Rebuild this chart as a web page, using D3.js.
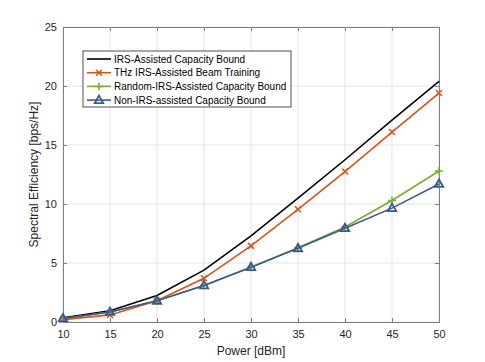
<!DOCTYPE html>
<html><head><meta charset="utf-8">
<script src="https://cdn.jsdelivr.net/npm/d3@7"></script>
<style>body{margin:0;background:#fff}svg{display:block}</style>
</head><body>
<script>
const power = [10, 15, 20, 25, 30, 35, 40, 45, 50];
const irsBound = [0.35, 0.95, 2.25, 4.4, 7.3, 10.5, 13.75, 17.1, 20.4];
const thzTraining = [0.2, 0.6, 1.8, 3.7, 6.45, 9.55, 12.75, 16.1, 19.4];
const randomIrs = [0.3, 0.85, 1.8, 3.1, 4.65, 6.3, 8.05, 10.3, 12.8];
const nonIrs = [0.3, 0.85, 1.8, 3.1, 4.65, 6.25, 7.95, 9.65, 11.7];
const xTicks = [10, 15, 20, 25, 30, 35, 40, 45, 50];
const yTicks = [0, 5, 10, 15, 20, 25];
const seriesNames = ["IRS-Assisted Capacity Bound", "THz IRS-Assisted Beam Training", "Random-IRS-Assisted Capacity Bound", "Non-IRS-assisted Capacity Bound"];
const seriesColors = ["#000000", "#D95319", "#77AC30", "#3A5A8E"];
const seriesMarkers = ["none", "x", "plus", "triangle"];
const seriesData = [irsBound, thzTraining, randomIrs, nonIrs];

const W = 485, H = 362;
const m = {l: 63, t: 27, r: 439, b: 322};
const svg = d3.select("body").append("svg").attr("width", W).attr("height", H)
  .style("font-family", "'Liberation Sans', Arial, sans-serif");
const x = d3.scaleLinear().domain([10, 50]).range([m.l, m.r]);
const y = d3.scaleLinear().domain([0, 25]).range([m.b, m.t]);

// grid
const g = svg.append("g");
g.selectAll(".gx").data(xTicks).join("line").attr("x1", d => x(d)).attr("x2", d => x(d))
  .attr("y1", m.t).attr("y2", m.b).attr("stroke", "#e3e3e3").attr("stroke-width", 1);
g.selectAll(".gy").data(yTicks).join("line").attr("y1", d => y(d)).attr("y2", d => y(d))
  .attr("x1", m.l).attr("x2", m.r).attr("stroke", "#e3e3e3").attr("stroke-width", 1);

// axes
const axCol = "#808080";
const axB = svg.append("g").attr("transform", `translate(0,${m.b})`)
  .call(d3.axisBottom(x).tickValues(xTicks).tickSize(-4).tickPadding(8));
const axL = svg.append("g").attr("transform", `translate(${m.l},0)`)
  .call(d3.axisLeft(y).tickValues(yTicks).tickSize(-4).tickPadding(6));
const axT = svg.append("g").attr("transform", `translate(0,${m.t})`)
  .call(d3.axisTop(x).tickValues(xTicks).tickSize(-4).tickFormat(""));
const axR = svg.append("g").attr("transform", `translate(${m.r},0)`)
  .call(d3.axisRight(y).tickValues(yTicks).tickSize(-4).tickFormat(""));
[axB, axL, axT, axR].forEach(a => {
  a.selectAll("path").attr("stroke", axCol);
  a.selectAll("line").attr("stroke", axCol);
  a.selectAll("text").attr("fill", "#262626").style("font-size", "11px")
    .style("font-family", "'Liberation Sans', Arial, sans-serif");
});

// lines
const line = d3.line().x((d, i) => x(power[i])).y(d => y(d));
function marker(sel, type, color) {
  if (type === "x") {
    sel.append("path").attr("d", "M-3,-3L3,3M-3,3L3,-3").attr("stroke", color).attr("stroke-width", 1.5).attr("fill", "none");
  } else if (type === "plus") {
    sel.append("path").attr("d", "M-4,0L4,0M0,-4L0,4").attr("stroke", color).attr("stroke-width", 1.5).attr("fill", "none");
  } else if (type === "triangle") {
    sel.append("path").attr("d", "M0,-4.5L4.2,3L-4.2,3Z").attr("stroke", color).attr("stroke-width", 1.8).attr("fill", "none");
  }
}
seriesData.forEach((s, k) => {
  svg.append("path").datum(s).attr("d", line).attr("fill", "none")
    .attr("stroke", seriesColors[k]).attr("stroke-width", 1.6);
  if (seriesMarkers[k] !== "none") {
    s.forEach((v, i) => {
      const mg = svg.append("g").attr("transform", `translate(${x(power[i])},${y(v)})`);
      marker(mg, seriesMarkers[k], seriesColors[k]);
    });
  }
});

// axis labels
svg.append("text").attr("x", (m.l + m.r) / 2).attr("y", 355).attr("text-anchor", "middle")
  .attr("fill", "#262626").style("font-size", "12px").text("Power [dBm]");
svg.append("text").attr("transform", `translate(38,${(m.t + m.b) / 2}) rotate(-90)`)
  .attr("text-anchor", "middle").attr("fill", "#262626").style("font-size", "12px")
  .text("Spectral Efficiency [bps/Hz]");

// legend
const lg = svg.append("g");
lg.append("rect").attr("x", 83).attr("y", 51).attr("width", 208).attr("height", 56)
  .attr("fill", "#fff").attr("stroke", "#262626").attr("stroke-width", 0.8);
seriesNames.forEach((n, k) => {
  const yy = 59 + k * 13.7;
  lg.append("line").attr("x1", 87).attr("x2", 111).attr("y1", yy).attr("y2", yy)
    .attr("stroke", seriesColors[k]).attr("stroke-width", 1.6);
  const mg = lg.append("g").attr("transform", `translate(99,${yy})`);
  marker(mg, seriesMarkers[k], seriesColors[k]);
  lg.append("text").attr("x", 114).attr("y", yy).attr("dy", "0.35em")
    .attr("fill", "#000").style("font-size", "10px").text(n);
});
</script>
</body></html>
